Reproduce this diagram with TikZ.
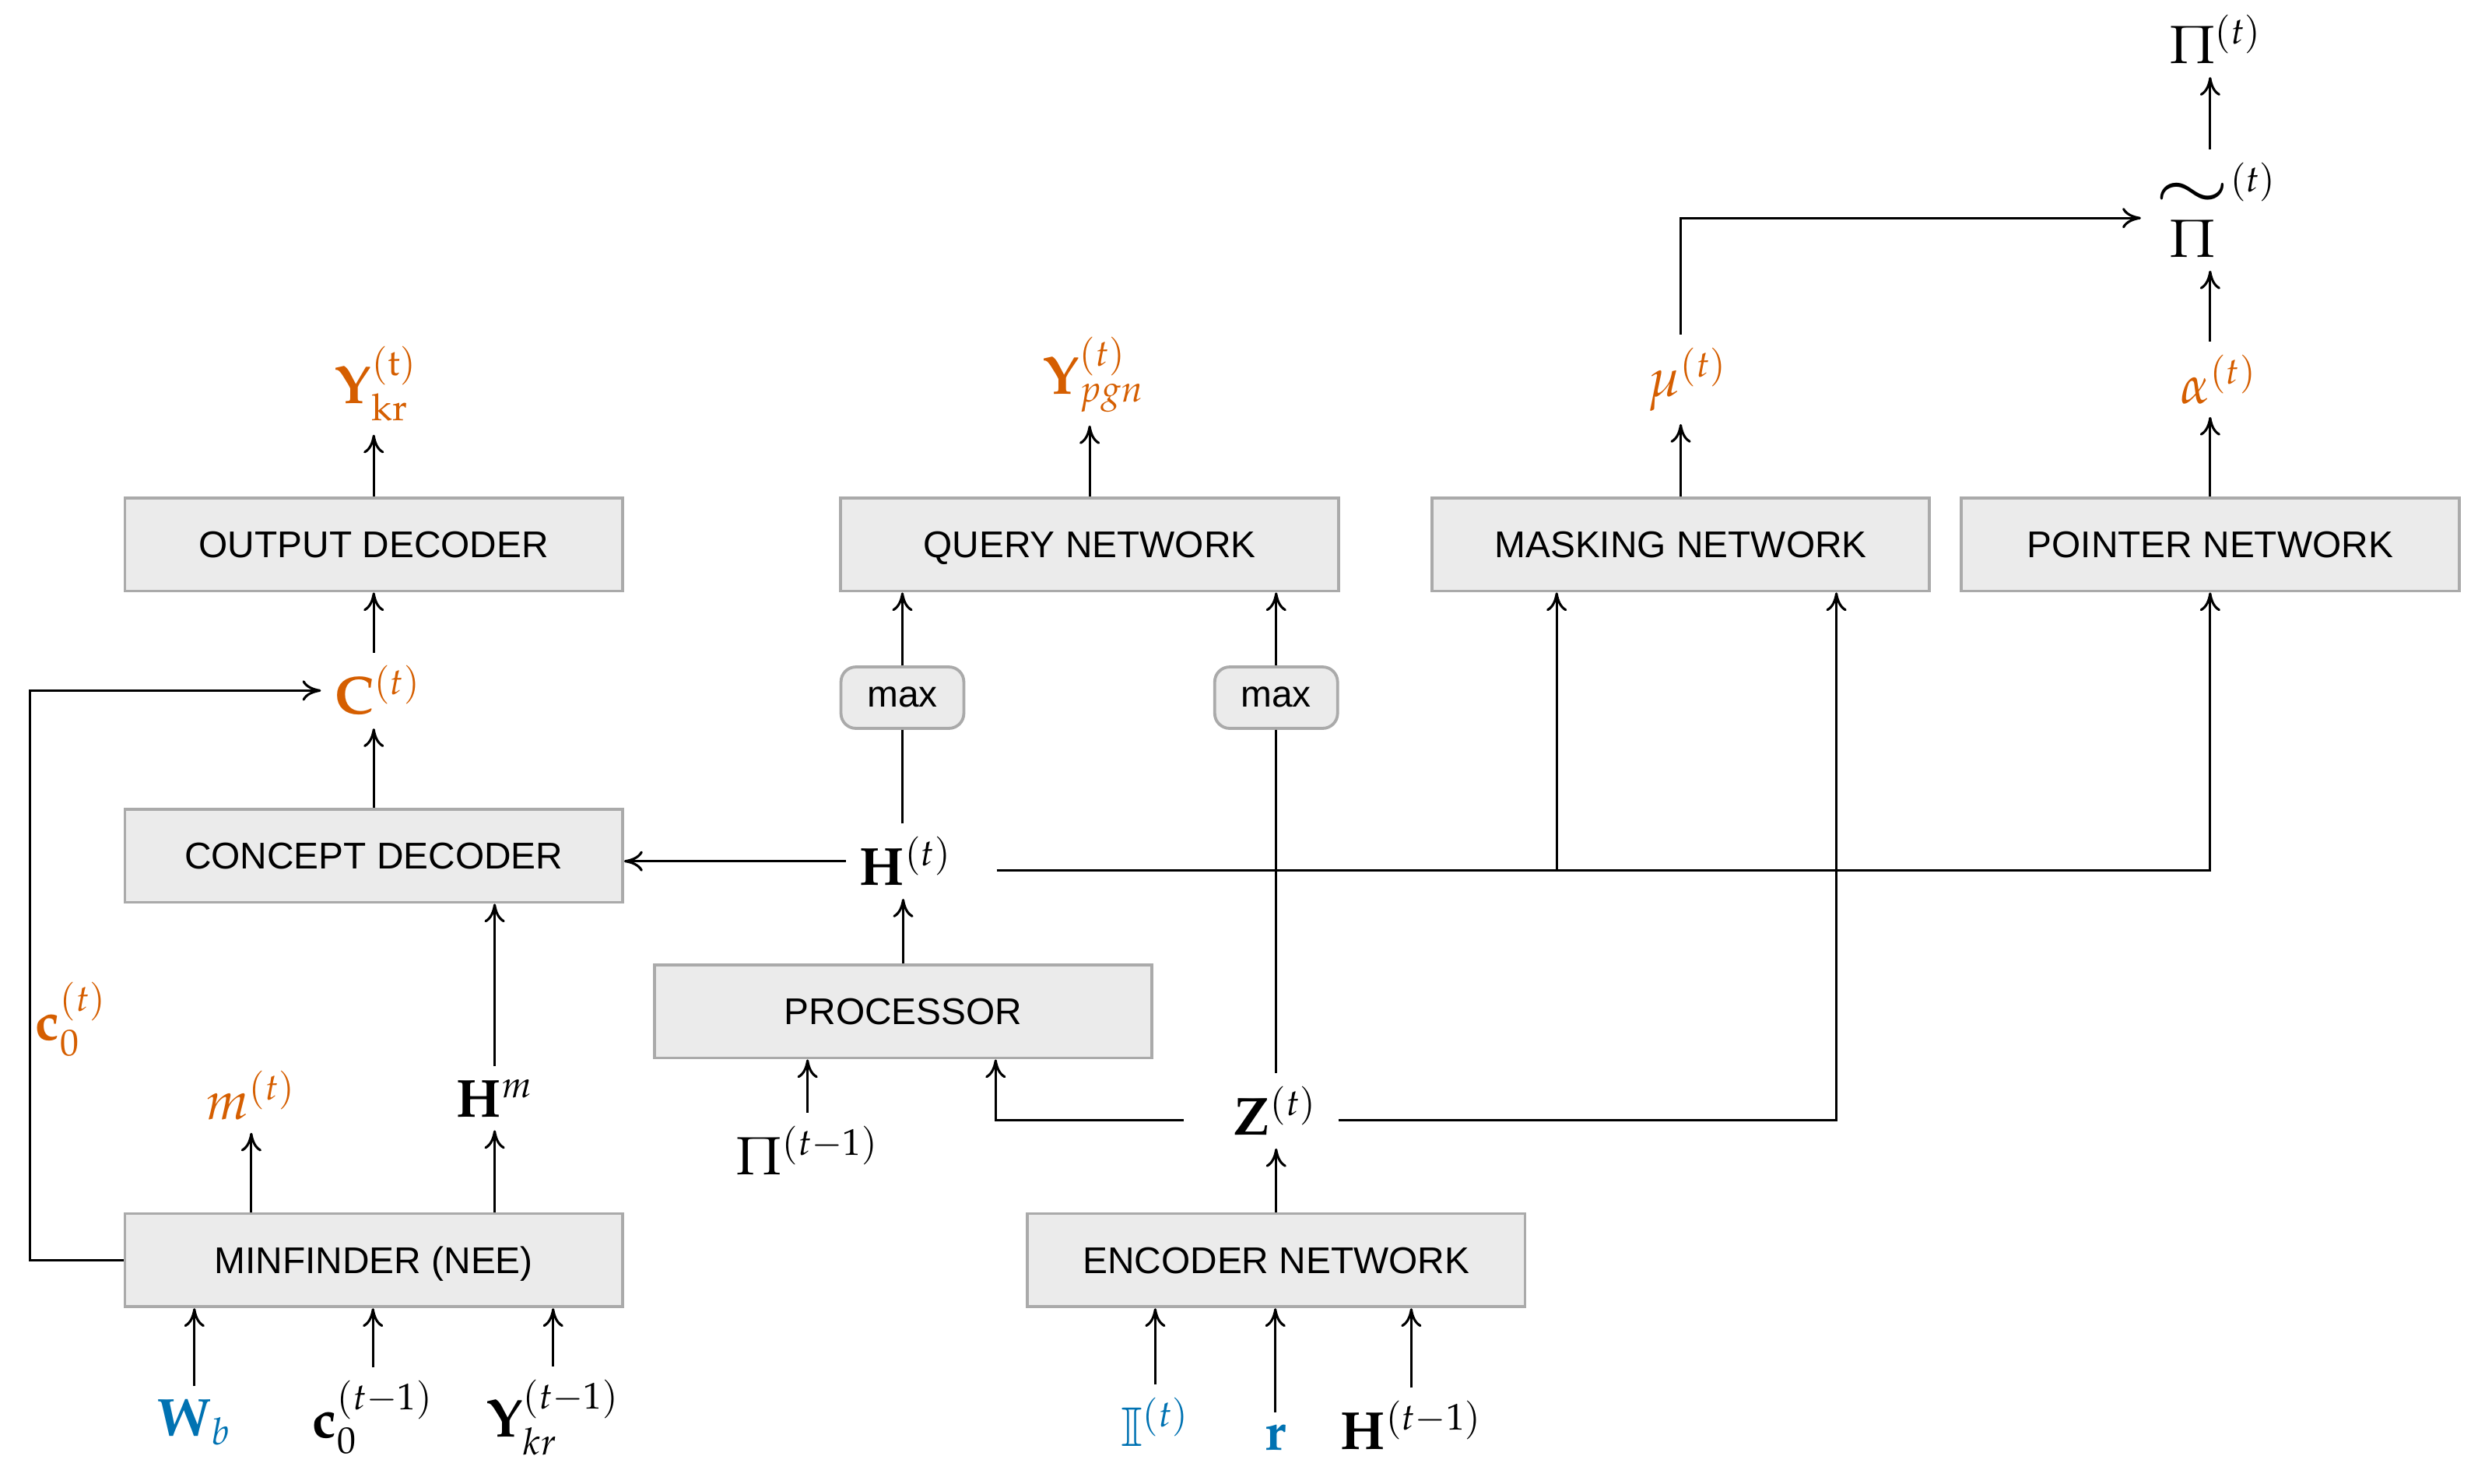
\documentclass[tikz,border=0pt]{standalone}
\usepackage{mathpazo}
\usepackage{amsmath}
\usepackage[no-math]{fontspec}
\usepackage{tikz}
\usetikzlibrary{arrows.meta,calc}
\newfontfamily\boxfont{Liberation Sans}
\DeclareMathAlphabet{\mathbbx}{U}{msb}{m}{n}
\definecolor{outorange}{RGB}{213,94,0}
\definecolor{inblue}{RGB}{0,114,178}
\definecolor{boxfill}{RGB}{235,235,235}
\definecolor{boxline}{RGB}{170,170,170}

\begin{document}
\begin{tikzpicture}[x=0.01493cm,y=-0.01493cm,every node/.style={font=\Large},
  blk/.style={draw=boxline,fill=boxfill,line width=0.8pt,minimum width=4.70cm,minimum height=0.88cm,inner sep=0pt,text height=7.1pt,text depth=0pt,font=\boxfont\normalsize},
  maxbox/.style={blk,rounded corners=4pt,minimum width=1.16cm,minimum height=0.58cm,text height=5.2pt},
  outc/.style={text=outorange},
  inc/.style={text=inblue},
  conn/.style={line width=0.65pt},
  >={To[length=5pt,width=5.5pt]}]
\useasboundingbox (0,0) rectangle (1568,939);
% blocks
\node[blk] (outdec) at (236.5,344.5) {OUTPUT DECODER};
\node[blk] (querynet) at (689.5,344.5) {QUERY NETWORK};
\node[blk] (masknet) at (1063.5,344.5) {MASKING NETWORK};
\node[blk] (ptrnet) at (1398.5,344.5) {POINTER NETWORK};
\node[blk] (conceptdec) at (236.5,541.5) {CONCEPT DECODER};
\node[blk] (processor) at (571.5,640) {PROCESSOR};
\node[blk] (minfinder) at (236.5,797.5) {MINFINDER (NEE)};
\node[blk] (encoder) at (807.5,797.5) {ENCODER NETWORK};
\node[maxbox] (maxl) at (571,441.5) {max};
\node[maxbox] (maxr) at (807.5,441.5) {max};
% quantities
\node (pit) at (1402,25) {$\Pi^{(t)}$};
\node (pitil) at (1402,133) {$\overset{\scalebox{1.7}[1.3]{$\sim$}}{\Pi}^{(t)}$};
\node[outc] (mu) at (1068,240) {$\mu^{(t)}$};
\node[outc] (alpha) at (1404,240) {$\alpha^{(t)}$};
\node[outc] (ykr) at (238,243) {$\mathbf{Y}^{(\mathrm{t})}_{\mathrm{kr}}$};
\node[outc] (ypgn) at (692,237) {$\mathbf{Y}^{(t)}_{pgn}$};
\node[outc] (ct) at (239,437) {$\mathbf{C}^{(t)}$};
\node (ht) at (573,545) {$\mathbf{H}^{(t)}$};
\node (zt) at (807,703) {$\mathbf{Z}^{(t)}$};
\node (pitm) at (511,728) {$\Pi^{(t-1)}$};
\node[outc] (mt) at (159,693) {$m^{(t)}$};
\node (hm) at (313,695) {$\mathbf{H}^{m}$};
\node[outc] (c0t) at (45,645) {$\mathbf{c}_0^{(t)}$};
\node[inc] (wb) at (123,900) {$\mathbf{W}_b$};
\node (c0prev) at (236,897) {$\mathbf{c}_0^{(t-1)}$};
\node (ykrprev) at (350,897) {$\mathbf{Y}^{(t-1)}_{kr}$};
\node[inc] (it) at (731,900) {$\mathbbx{I}^{(t)}$};
\node[inc] (rv) at (807,910) {$\mathbf{r}$};
\node (hprev) at (893,902) {$\mathbf{H}^{(t-1)}$};
% helper points
\coordinate (fbk) at (19,797.5);
\coordinate (hr) at ($(ht.east)+(20,6)$);
\coordinate (hbr) at ($(masknet.south)+(-78.5,0)$);
\coordinate (zl) at ($(zt.west)+(-23,6)$);
\coordinate (zr) at ($(zt.east)+(5,6)$);
\coordinate (zbr) at ($(masknet.south)+(98.5,0)$);
\coordinate (pbr) at ($(processor.south)+(58.5,0)$);
% outputs
\draw[conn,->] (outdec.north) -- (ykr.south -| outdec.north);
\draw[conn,->] (querynet.north) -- (ypgn.south -| querynet.north);
\draw[conn,->] (masknet.north) -- (mu.south -| masknet.north);
\draw[conn,->] (ptrnet.north) -- (alpha.south -| ptrnet.north);
\draw[conn,->] (alpha.north -| ptrnet.north) -- (pitil.south -| ptrnet.north);
\draw[conn,->] (pitil.north -| ptrnet.north) -- (pit.south -| ptrnet.north);
\draw[conn,->] (mu.north -| masknet.north) |- ($(pitil.west)+(0,5)$);
% concept path
\draw[conn,->] (conceptdec.north) -- (ct.south -| conceptdec.north);
\draw[conn,->] (ct.north -| outdec.south) -- (outdec.south);
\draw[conn,->] (minfinder.west) -- (fbk) |- (ct.west);
\draw[conn,->] (minfinder.north -| mt) -- (mt.south);
\draw[conn,->] (minfinder.north -| hm) -- (hm.south);
\draw[conn,->] (hm.north) -- (hm.north |- conceptdec.south);
\draw[conn,->] (wb.north) -- (wb.north |- minfinder.south);
\draw[conn,->] (c0prev.north) -- (c0prev.north |- minfinder.south);
\draw[conn,->] (ykrprev.north) -- (ykrprev.north |- minfinder.south);
% processor and query
\draw[conn,->] (processor.north) -- (ht.south -| processor.north);
\draw[conn,->] (ht.west) -- (conceptdec.east |- ht.west);
\draw[conn] (maxl.south |- ht.north) -- (maxl.south);
\draw[conn,->] (maxl.north) -- (maxl.north |- querynet.south);
\draw[conn] (maxr.south |- zt.north) -- (maxr.south);
\draw[conn,->] (maxr.north) -- (maxr.north |- querynet.south);
\draw[conn,->] (hr) -| (ptrnet.south);
\draw[conn,->] (hr -| hbr) -- (hbr);
\draw[conn,->] (encoder.north) -- (zt.south -| encoder.north);
\draw[conn,->] (zl) -| (pbr);
\draw[conn,->] (zr) -| (zbr);
\draw[conn,->] (pitm.north) -- (pitm.north |- processor.south);
\draw[conn,->] (it.north) -- (it.north |- encoder.south);
\draw[conn,->] (rv.north) -- (rv.north |- encoder.south);
\draw[conn,->] (hprev.north) -- (hprev.north |- encoder.south);
\end{tikzpicture}
\end{document}
